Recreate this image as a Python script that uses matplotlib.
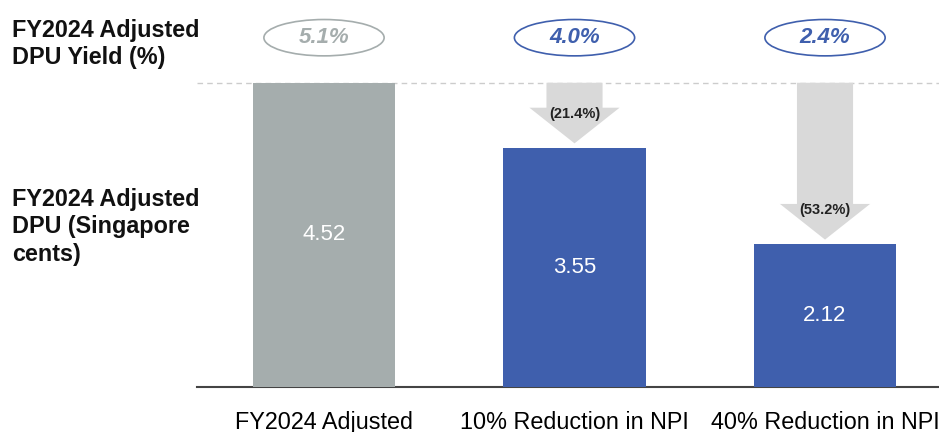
import matplotlib.pyplot as plt
from matplotlib.patches import Ellipse, Polygon

plt.rcParams['font.family'] = ['Liberation Sans', 'DejaVu Sans']

# data
categories = ['FY2024 Adjusted', '10% Reduction in NPI', '40% Reduction in NPI']
dpu = [4.52, 3.55, 2.12]
yields = ['5.1%', '4.0%', '2.4%']
reductions = [None, '(21.4%)', '(53.2%)']

gray = '#a5adad'
blue = '#3f5fad'
colors = [gray, blue, blue]

fig = plt.figure(figsize=(9.39, 4.32), dpi=100)
ax = fig.add_axes([197 / 939, 1 - 387 / 432, 1 - 197 / 939, 387 / 432])

x = list(range(len(categories)))
ax.bar(x, dpu, width=0.567, color=colors, zorder=3)

for i, v in enumerate(dpu):
    ax.text(i, v / 2, f'{v:.2f}', ha='center', va='center', color='white', fontsize=16, zorder=4)

# dashed reference at base DPU
ax.axhline(dpu[0], color='#cccccc', lw=1, ls=(0, (4, 3)), zorder=1)

# downward arrows
for i in range(1, len(dpu)):
    top = dpu[0]
    tip = dpu[i] + 0.07
    head = tip + 0.53
    sw, hw = 0.112, 0.18
    pts = [(i - sw, top), (i + sw, top), (i + sw, head), (i + hw, head),
           (i, tip), (i - hw, head), (i - sw, head)]
    ax.add_patch(Polygon(pts, closed=True, facecolor='#d9d9d9', edgecolor='none', zorder=2))
    ax.text(i, head - 0.09, reductions[i], ha='center', va='center', fontsize=10.5,
            fontweight='bold', color='#222222', zorder=5)

# yield ellipses
for i, y in enumerate(yields):
    ec = '#a5adad' if i == 0 else blue
    ax.add_patch(Ellipse((i, 5.19), 0.48, 0.54, facecolor='white', edgecolor=ec, lw=1.2,
                         clip_on=False, zorder=5))
    ax.text(i, 5.19, y, ha='center', va='center', fontsize=16, fontweight='bold',
            fontstyle='italic', color=ec, zorder=6)

ax.set_xlim(-0.507, 2.455)
ax.set_ylim(0, 5.75)
for s in ['top', 'right', 'left']:
    ax.spines[s].set_visible(False)
ax.spines['bottom'].set_color('#444444')
ax.spines['bottom'].set_linewidth(1.5)
ax.set_yticks([])
ax.set_xticks(x)
ax.set_xticklabels(categories, fontsize=16.8)
ax.tick_params(axis='x', length=0, pad=17)

fig.text(12 / 939, 1 - 44 / 432, 'FY2024 Adjusted\nDPU Yield (%)', ha='left', va='center',
         fontsize=16.8, fontweight='bold', linespacing=1.26, color='#111111')
fig.text(12 / 939, 1 - 227 / 432, 'FY2024 Adjusted\nDPU (Singapore\ncents)', ha='left', va='center',
         fontsize=16.8, fontweight='bold', linespacing=1.26, color='#111111')

fig.savefig('out.png', dpi=100)
